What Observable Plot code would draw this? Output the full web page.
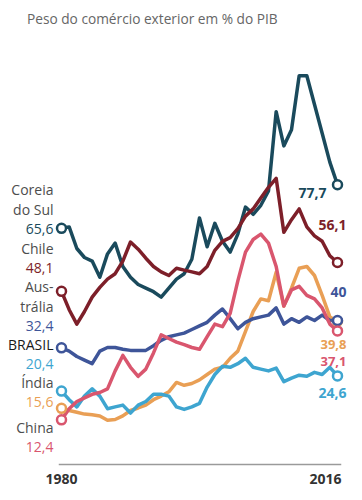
<!DOCTYPE html>
<html>
<head>
<meta charset="utf-8">
<script src="https://cdn.jsdelivr.net/npm/d3@7"></script>
<script src="https://cdn.jsdelivr.net/npm/@observablehq/plot@0.6"></script>
<style>
  body { margin: 0; background: #fff; font-family: "Open Sans", sans-serif; }
  #wrap { width: 362px; height: 500px; position: relative; overflow: hidden; }
  #title { height: 30px; box-sizing: border-box; padding: 9px 0 0 27px; font-size: 13.7px; color: #666; white-space: nowrap; }
  svg { display: block; }
</style>
</head>
<body>
<div id="wrap">
  <div id="title">Peso do comércio exterior em % do PIB</div>
  <div id="chart"></div>
</div>
<script>
// ---- data (% of GDP), 1980..2016 ----
const years = d3.range(1980, 2017);
const coreia    = [65.6, 66, 60, 57.5, 56.5, 52, 58.5, 61.5, 55, 52, 50, 49, 48, 46.5, 49, 51.5, 53, 57, 68.5, 60.5, 67, 62, 59, 64, 71.5, 69.5, 72, 76, 98, 88.5, 93, 108, 108, 100, 92, 84, 77.7];
const chile     = [48.1, 43, 39, 42.5, 46.5, 49.2, 51.5, 53, 56.5, 61.8, 59.8, 57.3, 55, 53.5, 52.5, 54.5, 54, 53.5, 53, 55, 59.5, 62, 63, 65.5, 69, 71, 74, 77, 79.5, 64.5, 68, 71, 66, 63.5, 62, 58, 56.1];
const australia = [32.4, 31.5, 30, 29, 28, 31.5, 32.5, 32.5, 32, 31.7, 31.7, 31.7, 33, 34.5, 35.5, 36, 36.5, 37.5, 38.5, 39.5, 41.5, 43.2, 40.5, 37.7, 39.5, 40.5, 41, 41.5, 43.5, 39, 40.5, 39.5, 41, 40, 41.5, 40, 40];
const brasil    = [20.4, 18, 16, 19, 21, 19, 15.5, 16, 16.5, 14.3, 16.5, 17.5, 19.5, 19.5, 19, 16, 15.3, 16, 17, 21.5, 25, 27.3, 27, 28, 29.5, 27, 26.5, 26, 26.8, 23, 24, 24.8, 24.5, 25.6, 25, 27, 24.6];
const india     = [15.6, 15, 14.5, 14, 13.8, 13.5, 12.3, 12.5, 13.5, 15, 15.7, 16.5, 18, 19, 20.2, 22.8, 22, 22.5, 23.5, 25, 26.5, 27, 29.5, 31.5, 37, 42.5, 46, 45.5, 53.4, 44, 49, 54.5, 55, 52.5, 47, 41, 39.8];
const china     = [12.4, 15.5, 17.5, 18.5, 19.5, 20, 21, 26, 30.3, 27, 24.5, 26.5, 31, 36, 35, 34, 33.3, 32.5, 32, 35.5, 39, 38.3, 42, 51, 59, 62.5, 64, 61.5, 55, 44, 48.5, 49.5, 47, 46, 43.5, 39, 37.1];

const seriesNames  = ["india", "brasil", "australia", "china", "coreia", "chile"];
const seriesValues = { coreia, chile, australia, brasil, india, china };
const seriesColors = ["#e99f55", "#3ea5d0", "#3e5599", "#d9566e", "#1a4a5c", "#7d1f29"];
const tickYears = [1980, 2016];

// value labels (text)
const startLabels = ["65,6", "48,1", "32,4", "20,4", "15,6", "12,4"];
const endLabels   = ["77,7", "56,1", "40", "24,6", "39,8", "37,1"];

// ---- build table ----
const rows = [];
for (const s of seriesNames) seriesValues[s].forEach((v, i) => rows.push({ series: s, year: years[i], value: v }));
const ends = rows.filter(d => d.year === 1980 || d.year === 2016);

// ---- label layout (page pixels, styling only) ----
const OFF = 30; // title height
const nameColor = "#4d4d4d";
const col = Object.fromEntries(seriesNames.map((s, i) => [s, seriesColors[i]]));
const leftLayout = [
  { t: "Coreia", py: 190, c: nameColor, w: 400 },
  { t: "do Sul", py: 210, c: nameColor, w: 400 },
  { t: startLabels[0], py: 229, c: col.coreia, w: 700 },
  { t: "Chile", py: 249, c: nameColor, w: 400 },
  { t: startLabels[1], py: 268, c: col.chile, w: 700 },
  { t: "Aus-", py: 287, c: nameColor, w: 400 },
  { t: "trália", py: 307, c: nameColor, w: 400 },
  { t: startLabels[2], py: 326, c: col.australia, w: 700 },
  { t: "BRASIL", py: 345, c: "#1a1a1a", w: 800 },
  { t: startLabels[3], py: 364, c: col.brasil, w: 700 },
  { t: "Índia", py: 383, c: nameColor, w: 400 },
  { t: startLabels[4], py: 402, c: col.india, w: 700 },
  { t: "China", py: 428, c: nameColor, w: 400 },
  { t: startLabels[5], py: 447, c: col.china, w: 700 }
];
const rightLayout = [
  { t: endLabels[0], py: 193, c: col.coreia, dx: -12, fs: 14 },
  { t: endLabels[1], py: 225, c: col.chile, dx: 8, fs: 14 },
  { t: endLabels[2], py: 292, c: col.australia, dx: 9, fs: 14 },
  { t: endLabels[3], py: 393, c: col.brasil, dx: 9, fs: 14 },
  { t: endLabels[4], py: 344, c: col.india, dx: 9, fs: 13 },
  { t: endLabels[5], py: 361, c: col.china, dx: 9, fs: 13 }
];

const H = 470;
const yDomain = [0, 110];
const yRange = [434, 38];
const yS = Plot.scale({ y: { domain: yDomain, range: yRange } });
leftLayout.forEach(d => d.y = yS.invert(d.py - OFF));
rightLayout.forEach(d => d.y = yS.invert(d.py - OFF));

const chart = Plot.plot({
  width: 362,
  height: H,
  marginLeft: 59,
  marginRight: 22,
  marginTop: 38,
  marginBottom: 36,
  style: { fontFamily: "'Open Sans', sans-serif", background: "#fff", overflow: "visible" },
  x: { domain: [1980, 2016], range: [61, 337], axis: null },
  y: { domain: yDomain, range: yRange, axis: null },
  color: { domain: seriesNames, range: seriesColors },
  marks: [
    Plot.frame({ anchor: "bottom", stroke: "#9a9a9a", strokeWidth: 1.5 }),
    Plot.line(rows, { x: "year", y: "value", z: "series", stroke: "series", strokeWidth: 3.5, strokeLinejoin: "round", strokeLinecap: "round" }),
    Plot.dot(ends, { x: "year", y: "value", stroke: "series", fill: "white", r: 4.5, strokeWidth: 2.5 }),
    Plot.text(leftLayout, { x: () => 1980, y: "y", text: "t", fill: "c", fontWeight: "w", textAnchor: "end", dx: -8, fontSize: 14 }),
    Plot.text(rightLayout.filter(d => d.dx < 0), { x: () => 2016, y: "y", text: "t", fill: "c", fontWeight: 700, textAnchor: "end", dx: -11, fontSize: 14 }),
    Plot.text(rightLayout.filter(d => d.dx > 0 && d.fs === 14), { x: () => 2016, y: "y", text: "t", fill: "c", fontWeight: 700, textAnchor: "end", dx: 9, fontSize: 14 }),
    Plot.text(rightLayout.filter(d => d.dx > 0 && d.fs === 13), { x: () => 2016, y: "y", text: "t", fill: "c", fontWeight: 700, textAnchor: "end", dx: 9, fontSize: 13, lineAnchor: "middle" }),
    Plot.text([tickYears[0]], { x: d => d, frameAnchor: "bottom", dy: 19, text: d => String(d), textAnchor: "middle", fill: "#333", fontWeight: 700, fontSize: 14 }),
    Plot.text([tickYears[1]], { x: d => d, frameAnchor: "bottom", dy: 19, text: d => String(d), textAnchor: "end", dx: 4, fill: "#333", fontWeight: 700, fontSize: 14 })
  ]
});
document.getElementById("chart").appendChild(chart);
</script>
</body>
</html>
